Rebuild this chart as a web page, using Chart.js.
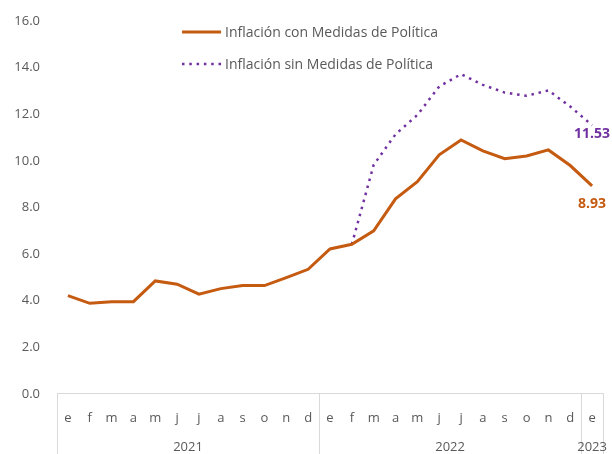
<!DOCTYPE html>
<html>
<head>
<meta charset="utf-8">
<script src="https://cdn.jsdelivr.net/npm/chart.js@4/dist/chart.umd.min.js"></script>
<style>
  html, body { margin: 0; padding: 0; background: #fff; }
</style>
</head>
<body>
<canvas id="myChart" width="612" height="454"></canvas>
<script>
// month labels, 2021-01 .. 2023-01
const months = ['e','f','m','a','m','j','j','a','s','o','n','d',
                'e','f','m','a','m','j','j','a','s','o','n','d',
                'e'];
const years = ['2021', '2022', '2023'];
const yearSizes = [12, 12, 1];

const conMedidas = [4.22, 3.89, 3.96, 3.96, 4.85, 4.71, 4.28, 4.52, 4.65, 4.65, 4.99, 5.35,
                    6.22, 6.42, 7.00, 8.37, 9.11, 10.26, 10.90, 10.43, 10.09, 10.21, 10.47, 9.80,
                    8.93];
const sinMedidas = [null, null, null, null, null, null, null, null, null, null, null, null,
                    null, 6.42, 9.83, 11.14, 11.97, 13.19, 13.72, 13.26, 12.93, 12.79, 13.02, 12.33,
                    11.53];

const yTicks = [0, 2, 4, 6, 8, 10, 12, 14, 16];

const ORANGE = '#C55A11';
const PURPLE = '#7030A0';
const GREY_TEXT = '#595959';
const GRID = '#D9D9D9';
const FONT = '"Open Sans", "Noto Sans", sans-serif';

// year groups, separators, last-value labels, legend
const extras = {
  id: 'extras',
  afterDraw(chart) {
    const ctx = chart.ctx;
    const area = chart.chartArea;
    const x = chart.scales.x;
    const bottom = chart.height;
    ctx.save();

    // axis box
    ctx.strokeStyle = GRID;
    ctx.lineWidth = 1;
    ctx.beginPath();
    ctx.moveTo(area.left, Math.round(area.bottom) - 0.5);
    ctx.lineTo(area.right, Math.round(area.bottom) - 0.5);
    ctx.stroke();

    let start = 0;
    const bounds = [area.left];
    yearSizes.forEach((n, i) => {
      const end = start + n - 1;
      const right = i === yearSizes.length - 1 ? area.right
        : (x.getPixelForValue(end) + x.getPixelForValue(end + 1)) / 2;
      bounds.push(right);
      start += n;
    });
    bounds.forEach(b => {
      const px = Math.round(b) + 0.5;
      ctx.beginPath();
      ctx.moveTo(px, area.bottom - 1);
      ctx.lineTo(px, bottom);
      ctx.stroke();
    });

    ctx.fillStyle = GREY_TEXT;
    ctx.font = '13px ' + FONT;
    ctx.textAlign = 'center';
    ctx.textBaseline = 'middle';
    years.forEach((y, i) => {
      ctx.fillText(y, (bounds[i] + bounds[i + 1]) / 2, 447);
    });

    // last value labels
    ctx.font = 'bold 14px ' + FONT;
    chart.data.datasets.forEach((ds, i) => {
      const meta = chart.getDatasetMeta(i);
      const last = meta.data[meta.data.length - 1];
      const v = ds.data[ds.data.length - 1];
      ctx.fillStyle = ds.borderColor;
      ctx.fillText(v.toFixed(2), last.x, last.y + ds.labelOffset);
    });

    // legend
    ctx.font = '14px ' + FONT;
    ctx.textAlign = 'left';
    chart.data.datasets.forEach((ds, i) => {
      const ly = 32 + i * 32;
      ctx.strokeStyle = ds.borderColor;
      ctx.lineWidth = ds.borderWidth;
      ctx.setLineDash(ds.borderDash || []);
      ctx.beginPath();
      ctx.moveTo(182, ly);
      ctx.lineTo(221, ly);
      ctx.stroke();
      ctx.setLineDash([]);
      ctx.fillStyle = GREY_TEXT;
      ctx.fillText(ds.label, 225, ly + 1);
    });

    ctx.restore();
  }
};

const data = {
  labels: months,
  datasets: [{
    label: 'Inflación con Medidas de Política',
    data: conMedidas,
    borderColor: ORANGE,
    borderWidth: 3,
    pointRadius: 0,
    tension: 0,
    labelOffset: 18
  }, {
    label: 'Inflación sin Medidas de Política',
    data: sinMedidas,
    borderColor: PURPLE,
    borderWidth: 2.5,
    borderDash: [2.5, 4.8],
    pointRadius: 0,
    tension: 0,
    labelOffset: 9
  }]
};

const config = {
  type: 'line',
  data: data,
  plugins: [extras],
  options: {
    responsive: false,
    animation: false,
    layout: { padding: { top: 21, right: 9, left: 0, bottom: 0 } },
    plugins: {
      legend: { display: false },
      tooltip: { enabled: false }
    },
    scales: {
      x: {
        type: 'category',
        offset: true,
        grid: { display: false },
        border: { display: false },
        ticks: {
          autoSkip: false,
          maxRotation: 0,
          padding: 8,
          color: GREY_TEXT,
          font: { family: FONT, size: 13 }
        },
        afterFit(scale) { scale.height = 60; }
      },
      y: {
        min: 0,
        max: 16,
        grid: { display: false, drawTicks: false },
        border: { display: false },
        afterBuildTicks(scale) { scale.ticks = yTicks.map(v => ({ value: v })); },
        ticks: {
          padding: 17,
          color: GREY_TEXT,
          font: { family: FONT, size: 13 },
          callback: v => v.toFixed(1)
        },
        afterFit(scale) {
          scale.width = 57;
          scale.paddingTop = 0;
          scale.paddingBottom = 0;
        }
      }
    }
  }
};

const myChart = new Chart(document.getElementById('myChart'), config);
</script>
</body>
</html>
